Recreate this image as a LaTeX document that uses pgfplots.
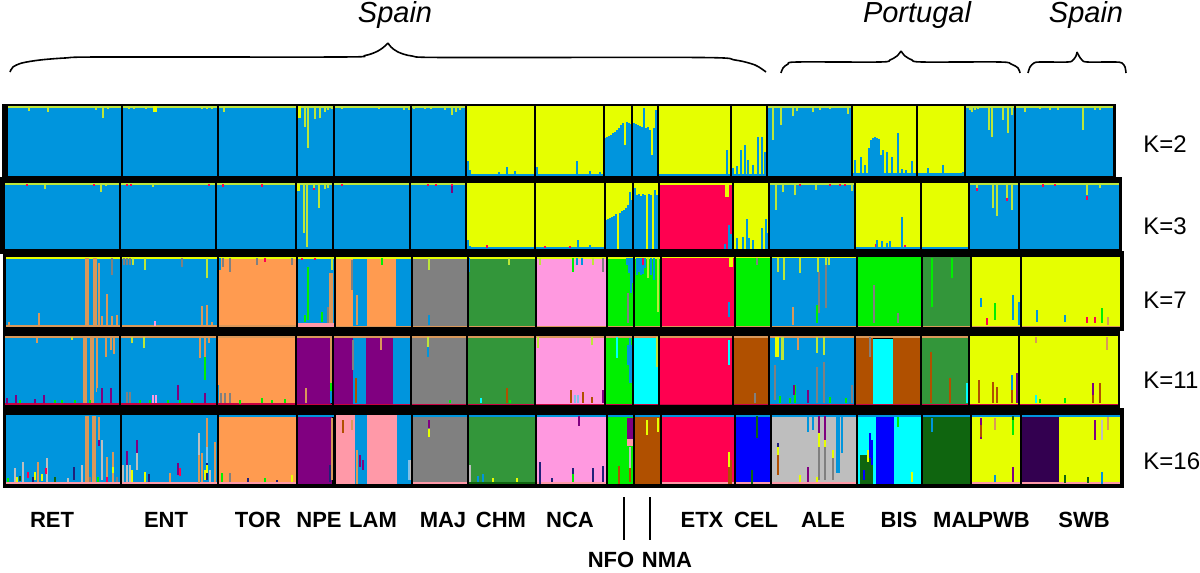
\documentclass[border=0pt]{standalone}
\usepackage{pgfplots}
\pgfplotsset{compat=1.18}
\usepackage{fontspec}
\setmainfont{Liberation Sans}
\definecolor{cb}{HTML}{0095DD}
\definecolor{cy}{HTML}{E6FF00}
\definecolor{cY}{HTML}{BDE63A}
\definecolor{co}{HTML}{FF9B50}
\definecolor{cg}{HTML}{808080}
\definecolor{cd}{HTML}{33963A}
\definecolor{cp}{HTML}{FF99E0}
\definecolor{cl}{HTML}{00F000}
\definecolor{cr}{HTML}{FF0050}
\definecolor{cn}{HTML}{B05000}
\definecolor{cu}{HTML}{800080}
\definecolor{cc}{HTML}{00FFFF}
\definecolor{ct}{HTML}{D9985A}
\definecolor{cs}{HTML}{FF99A8}
\definecolor{cx}{HTML}{BEBEBE}
\definecolor{ck}{HTML}{0F650F}
\definecolor{cv}{HTML}{330050}
\definecolor{cq}{HTML}{0000FF}
\definecolor{cm}{HTML}{80C0E8}
\definecolor{cz}{HTML}{20207A}
\definecolor{ce}{HTML}{C80040}
\pgfplotsset{table/row sep=\\,
  sp/.style={quiver={u=0,v=\thisrow{h}},-,draw=#1,line width=0.95pt,forget plot,no markers},
  st/.style={quiver={u=0,v=\thisrow{h}},-,draw=#1,line width=1.05pt,forget plot,no markers},
  sw/.style={quiver={u=0,v=\thisrow{h}},-,draw=#1,line width=1.6pt,forget plot,no markers},
  sep/.style={quiver={u=0,v=\thisrow{h}},-,draw=black,line width=0.7pt,forget plot,no markers},
  br/.style={black,line width=0.8pt,smooth,tension=0.5,no markers,forget plot}}
\newcommand{\blk}[5]{\addplot[fill=#1,draw=none,forget plot] coordinates {(#2,#4)(#3,#4)(#3,#5)(#2,#5)} -- cycle;}
\begin{document}
\begin{tikzpicture}
\begin{axis}[scale only axis,width=600pt,height=286.5pt,xmin=0,xmax=1200,ymin=0,ymax=573,y dir=reverse,hide axis,clip=true]
% frames
\blk{black}{2}{1116}{104}{181}
\blk{black}{0}{1122}{177}{254}
\blk{black}{3}{1124}{251}{331}
\blk{black}{3}{1120}{328}{409}
\blk{black}{3}{1124}{408}{488}
% ---------- K=2
\blk{cb}{8}{466}{106}{176}
\blk{cy}{466}{604}{106}{176}
\blk{cy}{604}{658}{106}{176}
\blk{cy}{658}{767}{106}{176}
\blk{cb}{767}{852}{106}{176}
\blk{cy}{852}{965}{106}{176}
\blk{cb}{965}{1113}{106}{176}
\blk{cY}{8}{466}{106}{108}
\blk{cY}{767}{852}{106}{108}
\blk{cY}{965}{1113}{106}{108}
\blk{cb}{466}{604}{174}{176}
\blk{cb}{658}{767}{174}{176}
\blk{cb}{852}{965}{173}{176}
\addplot[sp=cY] table {x y h\\29 106 5\\48 106 6\\96 106 4\\103 106 12\\108 106 3\\129 106 3\\134 106 3\\146 106 3\\202 106 3\\207 106 3\\212 106 3\\224 106 6\\305 106 21\\308 106 42\\315 106 13\\320 106 12\\325 106 6\\328 106 4\\332 106 3\\342 106 3\\379 106 3\\404 106 4\\409 106 4\\414 106 3\\425 106 3\\431 106 3\\445 106 4\\452 106 9\\456 106 6\\460 106 4\\773 106 34\\781 106 19\\793 106 10\\797 106 5\\813 106 6\\820 106 4\\830 106 3\\848 106 8\\968 106 2\\970 106 4\\972 106 6\\975 106 4\\978 106 3\\989 106 24\\992 106 31\\1003 106 14\\1008 106 27\\1012 106 9\\1025 106 6\\1040 106 3\\1050 106 4\\1058 106 4\\1083 106 24\\1095 106 4\\1100 106 4\\};
\addplot[sw=cy] table {x y h\\155 106 6\\299 106 12\\};
\addplot[sp=cb] table {x y h\\468 161 15\\470 170 6\\499 172 4\\507 167 9\\515 171 5\\537 167 9\\577 161 15\\590 171 5\\600 172 4\\727 150 26\\733 168 8\\737 166 10\\741 150 26\\745 145 31\\748 160 16\\753 165 11\\758 137 39\\762 137 39\\765 152 24\\855 160 16\\861 157 19\\865 165 11\\883 150 26\\887 152 24\\892 157 19\\898 133 43\\902 169 7\\906 170 6\\912 161 15\\928 168 8\\943 165 11\\963 172 4\\};
\addplot[st=cb] table {x y h\\869 148 28\\871 140 36\\873 138 38\\875 137 39\\877 138 38\\879 139 37\\881 155 21\\};
% NFO and NMA staircase K=2
\addplot[st=cb] table {x y h\\605 138 38\\607 137 39\\609 136 40\\611 135 41\\613 133 43\\615 132 44\\617 130 46\\619 128 48\\621 125 51\\623 123 53\\627 122 54\\629 123 53\\631 124 52\\634 123 53\\636 124 52\\638 125 51\\640 126 50\\642 127 49\\644 108 68\\646 128 48\\648 127 49\\650 130 46\\654 128 48\\656 110 66\\};
% separators K=2
\addplot[sep] table {x y h\\122 105 71\\218 105 71\\297 105 71\\334 105 71\\411 105 71\\466 105 71\\535 105 71\\604 105 71\\632 105 71\\658 105 71\\731 105 71\\767 105 71\\852 105 71\\917 105 71\\965 105 71\\1015 105 71\\};
\addplot[sp=cb] table {x y h\\625 145 31\\652 155 21\\};
% ---------- K=3
\blk{cb}{5}{466}{183}{249}
\blk{cy}{466}{605}{183}{249}
\blk{cy}{605}{659}{183}{249}
\blk{cr}{659}{733}{183}{249}
\blk{cy}{733}{769}{183}{249}
\blk{cb}{769}{855}{183}{249}
\blk{cy}{855}{969}{183}{249}
\blk{cb}{969}{1119}{183}{249}
\blk{cY}{5}{466}{183}{185}
\blk{cY}{769}{855}{183}{185}
\blk{cY}{969}{1119}{183}{185}
\blk{cb}{466}{605}{247}{249}
\blk{cb}{855}{969}{247}{249}
\blk{cy}{659}{733}{183}{184.5}
\addplot[sp=cY] table {x y h\\45 184 5\\101 184 8\\106 184 2\\153 184 3\\304 184 49\\307 184 63\\314 184 5\\319 184 24\\325 184 5\\328 184 4\\776 184 26\\783 184 8\\795 184 11\\816 184 6\\852 184 7\\993 184 24\\997 184 32\\1007 184 14\\1012 184 26\\977 184 6\\1087 184 11\\1100 184 4\\};
\addplot[sw=cy] table {x y h\\298 184 7\\727 184 13\\};
\addplot[sp=cr] table {x y h\\27 184 2\\94 184 2\\127 184 2\\131 184 2\\209 184 2\\223 184 3\\262 184 3\\314 188 2\\342 184 2\\428 184 2\\436 184 2\\452 184 2\\977 188 3\\1007 198 3\\1087 196 4\\1043 184 3\\1055 184 2\\800 184 2\\830 184 2\\840 184 2\\845 184 2\\470 246 2\\487 245 3\\545 246 2\\570 246 2\\590 246 2\\876 244 3\\882 242 2\\905 245 2\\};
\addplot[sp=cu] table {x y h\\452 186 7\\};
\addplot[sp=cb] table {x y h\\468 240 9\\470 246 3\\578 240 9\\590 245 4\\729 225 24\\731 234 15\\725 244 5\\737 238 11\\743 237 12\\747 219 30\\749 238 11\\753 240 9\\762 228 21\\766 219 30\\767 233 16\\877 240 9\\882 241 8\\887 243 6\\890 241 8\\902 217 32\\};
\addplot[st=cb] table {x y h\\606 220 29\\608 219 30\\610 218 31\\612 217 32\\614 216 33\\616 214 35\\620 213 36\\622 211 38\\624 210 39\\626 208 41\\628 205 44\\630 192 57\\632 200 49\\635 188 61\\637 195 54\\639 194 55\\641 196 53\\643 194 55\\645 195 54\\649 194 55\\651 195 54\\655 190 59\\657 195 54\\};
\addplot[sep] table {x y h\\120 183 66\\216 183 66\\296 183 66\\333 183 66\\410 183 66\\466 183 66\\535 183 66\\605 183 66\\633 183 66\\659 183 66\\733 183 66\\769 183 66\\855 183 66\\921 183 66\\969 183 66\\1019 183 66\\};
% ---------- K=7
\blk{cb}{6}{219}{257}{327}
\blk{co}{219}{298}{257}{327}
\blk{cb}{298}{336}{257}{327}
\blk{co}{336}{353}{257}{327}
\blk{cb}{353}{367}{257}{327}
\blk{co}{367}{396}{257}{327}
\blk{cb}{396}{412}{257}{327}
\blk{cg}{412}{468}{257}{327}
\blk{cd}{468}{536}{257}{327}
\blk{cp}{536}{607}{257}{327}
\blk{cl}{607}{661}{257}{327}
\blk{cr}{661}{735}{257}{327}
\blk{cl}{735}{771}{257}{327}
\blk{cb}{771}{857}{257}{327}
\blk{cl}{857}{922}{257}{327}
\blk{cd}{922}{971}{257}{327}
\blk{cy}{971}{1120}{257}{327}
\blk{cy}{6}{661}{257}{258.5}
\blk{cy}{661}{857}{257}{258}
\blk{ct}{6}{300}{325}{327}
\blk{cs}{298}{335}{323}{327}
\blk{ct}{336}{1120}{325.5}{327}
\addplot[sw=ct] table {x y h\\87 258 67\\95 258 67\\};
\addplot[sp=ct] table {x y h\\99 263 62\\102 316 9\\107 294 31\\112 316 9\\117 315 10\\39 313 12\\9 322 3\\202 306 19\\207 305 20\\212 322 3\\332 273 50\\330 273 50\\357 295 30\\793 307 18\\1108 317 8\\};
\addplot[sp=cg] table {x y h\\112 258 17\\182 258 9\\124 258 7\\127 258 7\\130 258 7\\230 258 14\\223 258 9\\257 258 7\\292 258 7\\328 307 16\\352 260 30\\757 258 7\\819 272 41\\826 265 43\\874 285 38\\898 313 10\\603 258 14\\628 293 30\\};
\addplot[sp=cY] table {x y h\\133 258 7\\145 258 12\\207 258 20\\332 258 12\\429 258 12\\509 258 7\\540 258 7\\593 258 7\\648 258 20\\658 258 54\\778 258 14\\784 258 22\\800 258 15\\818 258 14\\826 258 7\\829 258 7\\};
\addplot[sp=cl] table {x y h\\308 267 53\\322 312 10\\305 315 7\\382 258 7\\573 258 14\\752 318 7\\817 305 18\\932 258 49\\952 258 20\\995 303 17\\1102 308 15\\};
\addplot[sp=cb] table {x y h\\220 258 12\\429 315 10\\469 258 14\\577 258 7\\582 258 7\\627 258 7\\629 258 15\\631 258 35\\633 258 25\\654 258 22\\729 302 15\\981 298 9\\1013 295 25\\1019 302 23\\1037 310 12\\1065 315 7\\};
\addplot[st=cb] table {x y h\\637 258 17\\639 258 14\\641 258 17\\643 258 16\\645 258 10\\651 258 17\\};
\addplot[sw=cy] table {x y h\\731 257 10\\};
\addplot[sp=cr] table {x y h\\265 258 4\\302 258 2\\315 258 2\\643 258 7\\987 318 7\\1087 317 6\\1095 317 6\\};
\addplot[sp=cp] table {x y h\\155 321 5\\};
\addplot[sep] table {x y h\\121 257 70\\218 257 70\\297 257 70\\335 257 70\\412 257 70\\468 257 70\\536 257 70\\607 257 70\\634 257 70\\661 257 70\\735 257 70\\771 257 70\\857 257 70\\922 257 70\\971 257 70\\1021 257 70\\};
% ---------- K=11
\blk{cb}{5}{217}{336}{405}
\blk{co}{217}{296}{336}{405}
\blk{cu}{296}{331}{336}{405}
\blk{cu}{333}{353}{336}{405}
\blk{cb}{353}{366}{336}{405}
\blk{cu}{366}{393}{336}{405}
\blk{cb}{393}{411}{336}{405}
\blk{cg}{411}{467}{336}{405}
\blk{cd}{467}{535}{336}{405}
\blk{cp}{535}{605}{336}{405}
\blk{cl}{605}{633}{336}{405}
\blk{cc}{633}{659}{336}{405}
\blk{cr}{659}{733}{336}{405}
\blk{cn}{733}{769}{336}{405}
\blk{cb}{769}{855}{336}{405}
\blk{cn}{855}{873}{336}{405}
\blk{cc}{873}{893}{339}{405}
\blk{cn}{893}{921}{336}{405}
\blk{cd}{921}{969}{336}{405}
\blk{cy}{969}{1118}{336}{405}
\blk{ct}{5}{969}{336}{338}
\blk{ce}{5}{296}{403}{405}
\blk{ce}{296}{733}{403.5}{405}
\blk{ce}{733}{1118}{403.5}{405}
\addplot[sw=ct] table {x y h\\85 337 66\\92 337 66\\};
\addplot[sp=ct] table {x y h\\97 337 55\\106 337 20\\111 337 13\\114 337 17\\37 337 6\\200 337 21\\205 337 20\\209 337 6\\331 337 46\\381 337 13\\306 388 15\\1036 337 6\\1107 337 13\\798 337 13\\};
\addplot[sp=cY] table {x y h\\72 337 3\\132 337 6\\144 337 11\\428 337 10\\538 337 11\\592 337 8\\657 337 30\\777 337 20\\782 337 23\\783 337 23\\817 337 16\\824 337 18\\};
\addplot[sw=cy] table {x y h\\777 337 20\\};
\addplot[sp=cl] table {x y h\\205 357 23\\331 383 17\\55 400 3\\75 400 3\\140 400 3\\180 400 3\\240 400 4\\795 385 18\\20 400 3\\62 400 3\\90 400 3\\150 400 3\\168 400 3\\192 400 3\\262 398 5\\272 400 3\\285 399 4\\450 400 3\\510 400 3\\780 396 7\\790 398 5\\830 397 6\\846 398 5\\1040 399 4\\1065 398 5\\};
\addplot[sp=cu] table {x y h\\7 398 6\\16 395 8\\44 395 8\\102 388 15\\111 388 15\\178 385 15\\205 393 10\\603 390 13\\794 385 10\\808 390 13\\1017 373 30\\1093 383 20\\428 350 3\\35 399 4\\};
\addplot[sp=cb] table {x y h\\98 388 10\\428 347 10\\331 391 12\\218 385 18\\630 338 45\\632 345 38\\628 345 20\\1012 375 15\\};
\addplot[sp=cg] table {x y h\\127 392 11\\130 392 11\\221 393 10\\225 393 10\\230 393 10\\353 340 30\\775 365 35\\755 393 10\\817 367 36\\824 362 41\\852 385 18\\870 337 20\\};
\addplot[sp=cp] table {x y h\\153 395 8\\156 395 8\\};
\addplot[sp=cn] table {x y h\\356 378 25\\507 388 15\\571 390 13\\583 392 11\\592 397 6\\931 352 51\\950 378 25\\979 380 23\\993 382 21\\997 387 16\\1012 390 13\\1100 383 20\\1093 395 8\\};
\addplot[sp=cc] table {x y h\\481 398 5\\617 337 21\\729 340 25\\967 383 20\\1036 395 8\\};
\addplot[sp=cm] table {x y h\\575 395 8\\578 395 8\\};
\addplot[sep] table {x y h\\120 336 69\\217 336 69\\296 336 69\\333 336 69\\411 336 69\\467 336 69\\535 336 69\\605 336 69\\633 336 69\\659 336 69\\733 336 69\\769 336 69\\855 336 69\\921 336 69\\969 336 69\\1019 336 69\\};
% ---------- K=16
\blk{cb}{6}{219}{415}{484}
\blk{co}{219}{298}{415}{484}
\blk{cu}{298}{332}{415}{484}
\blk{cs}{336}{355}{415}{484}
\blk{cb}{355}{367}{415}{484}
\blk{cs}{367}{397}{415}{484}
\blk{cb}{397}{412}{415}{484}
\blk{cg}{412}{468}{415}{484}
\blk{cd}{468}{536}{415}{484}
\blk{cp}{536}{607}{415}{484}
\blk{cl}{607}{634}{415}{484}
\blk{cu}{627}{634}{418}{439}
\blk{cs}{627}{634}{439}{446}
\blk{cn}{634}{661}{415}{484}
\blk{cr}{661}{735}{415}{484}
\blk{cq}{735}{771}{415}{484}
\blk{cx}{771}{857}{415}{484}
\blk{cc}{857}{876}{415}{484}
\blk{ck}{860}{873}{455}{484}
\blk{cq}{876}{894}{415}{484}
\blk{cc}{894}{922}{415}{484}
\blk{ck}{922}{971}{415}{484}
\blk{cy}{971}{1021}{415}{484}
\blk{cv}{1021}{1059}{415}{484}
\blk{cy}{1059}{1120}{415}{484}
\blk{cb}{219}{336}{415}{416.5}
\blk{cb}{412}{1120}{415}{416.5}
\blk{cs}{6}{297}{481.5}{484}
\blk{cs}{412}{468}{482}{484}
\blk{ck}{468}{536}{482}{484}
\blk{cs}{536}{607}{482}{484}
\blk{cs}{661}{735}{482}{484}
\blk{cs}{735}{771}{482}{484}
\blk{cs}{771}{857}{482}{484}
\blk{cs}{971}{1120}{482}{484}
\addplot[sw=ct] table {x y h\\87 416 66\\94 416 66\\};
\addplot[sp=ct] table {x y h\\99 417 23\\107 457 25\\113 452 30\\38 462 20\\207 418 29\\199 455 28\\202 453 29\\215 442 40\\332 418 62\\343 420 13\\352 420 10\\357 450 34\\778 455 20\\995 418 12\\1108 417 13\\170 473 9\\};
\addplot[sp=cx] table {x y h\\102 440 40\\47 458 24\\23 462 20\\15 468 14\\82 465 17\\199 433 22\\470 465 17\\123 465 17\\127 451 31\\130 465 17\\137 453 17\\630 447 21\\1102 420 20\\410 460 20\\68 478 4\\210 470 12\\};
\addplot[sp=cm] table {x y h\\207 447 16\\409 460 20\\837 416 57\\};
\addplot[sp=cu] table {x y h\\99 440 6\\137 440 13\\127 451 14\\178 463 12\\307 463 20\\360 455 12\\363 460 10\\579 416 10\\819 416 17\\825 416 24\\981 418 21\\1013 467 15\\1095 420 20\\808 467 15\\429 420 8\\};
\addplot[sp=cz] table {x y h\\74 467 13\\207 463 17\\540 462 22\\573 468 14\\593 468 14\\603 466 16\\778 443 4\\330 465 17\\33 477 5\\149 474 8\\248 478 4\\277 480 2\\552 478 4\\};
\addplot[sp=cb] table {x y h\\808 416 16\\813 416 14\\842 416 37\\405 467 17\\478 476 6\\483 474 8\\995 475 7\\1102 472 12\\932 418 14\\188 477 5\\};
\addplot[sw=cb] table {x y h\\838 416 57\\};
\addplot[sp=cy] table {x y h\\429 429 8\\647 420 15\\658 418 14\\729 452 15\\778 447 8\\819 433 14\\825 440 7\\833 450 8\\868 450 12\\912 472 10\\35 472 8\\42 474 7\\205 470 10\\17 477 5\\113 467 6\\132 470 12\\145 472 10\\207 465 8\\292 475 7\\493 478 4\\517 478 4\\800 475 7\\817 477 5\\};
\addplot[sp=cr] table {x y h\\28 472 6\\46 468 6\\107 477 5\\180 468 8\\};
\addplot[sp=cn] table {x y h\\619 466 18\\630 468 14\\729 467 17\\731 460 24\\778 455 20\\981 425 12\\343 420 13\\};
\addplot[sp=cq] table {x y h\\870 433 25\\872 440 25\\864 470 10\\};
\addplot[sp=cg] table {x y h\\819 447 33\\825 447 33\\833 458 22\\90 477 5\\117 477 5\\230 473 9\\};
\addplot[sp=ck] table {x y h\\757 416 22\\752 470 14\\1065 475 8\\1088 477 6\\1013 416 19\\20 476 5\\55 477 5\\};
\addplot[sp=cl] table {x y h\\898 417 10\\1013 420 15\\8 478 4\\98 477 5\\222 473 9\\265 478 4\\573 474 8\\};
\addplot[sep] table {x y h\\121 415 69\\218 415 69\\297 415 69\\335 415 69\\412 415 69\\468 415 69\\536 415 69\\607 415 69\\634 415 69\\661 415 69\\735 415 69\\771 415 69\\857 415 69\\922 415 69\\971 415 69\\1021 415 69\\};
% braces
\addplot[br] coordinates {(10,72)(13,67)(22,63)(40,60)(65,58)(100,57)(340,57)(365,55.5)(378,51)(385,46)(388,43)};
\addplot[br] coordinates {(388,43)(391,47)(398,52)(412,56)(445,57.5)(700,57.5)(735,60)(755,65)(766,72)};
\addplot[br] coordinates {(781,73)(783,68)(788,64)(797,62)(880,62)(890,60)(897,56)(901,51)};
\addplot[br] coordinates {(901,51)(905,56)(912,60)(922,62)(1000,62)(1011,64)(1018,68)(1020,73)};
\addplot[br] coordinates {(1028,73)(1030,67)(1034,63)(1040,62)(1068,62)(1073,60)(1076,56)(1077,52)};
\addplot[br] coordinates {(1077,52)(1079,56)(1082,60)(1087,62)(1115,62)(1122,63)(1125,67)(1126,73)};
% NFO and NMA leaders
\addplot[black,line width=0.8pt,forget plot] coordinates {(624,497)(624,540)};
\addplot[black,line width=0.8pt,forget plot] coordinates {(650,497)(650,540)};
% texts
\node[font=\fontsize{14.5}{16}\selectfont\itshape] at (axis cs:395,15) {Spain};
\node[font=\fontsize{14.5}{16}\selectfont\itshape] at (axis cs:917,15) {Portugal};
\node[font=\fontsize{14.5}{16}\selectfont\itshape] at (axis cs:1086,15) {Spain};
\foreach \y/\t in {144/K=2,226/K=3,300/K=7,380/K=11,461/K=16}{
\edef\tmp{\noexpand\node[font=\noexpand\fontsize{12}{14}\noexpand\selectfont,anchor=west,inner sep=0pt] at (axis cs:1143,\y) {\t};}\tmp}
\foreach \x/\t in {52/RET,166/ENT,258/TOR,319/NPE,373/LAM,443/MAJ,501/CHM,570/NCA,702/ETX,756/CEL,823/ALE,899/BIS,957/MAL,1004/PWB,1084/SWB}{
\edef\tmp{\noexpand\node[font=\noexpand\fontsize{11}{13}\noexpand\selectfont\noexpand\bfseries] at (axis cs:\x,520) {\t};}\tmp}
\node[font=\fontsize{11}{13}\selectfont\bfseries] at (axis cs:611,560) {NFO};
\node[font=\fontsize{11}{13}\selectfont\bfseries] at (axis cs:667,560) {NMA};
\end{axis}
\end{tikzpicture}
\end{document}
